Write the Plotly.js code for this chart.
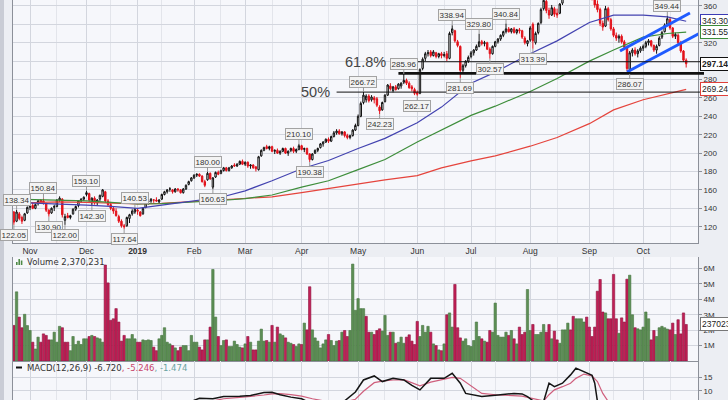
<!DOCTYPE html>
<html><head><meta charset="utf-8">
<script src="https://cdn.plot.ly/plotly-3.0.1.min.js"></script>
<style>html,body{margin:0;padding:0;background:#eceef3;}#chart{width:728px;height:400px;}</style>
</head><body><div id="chart"></div>
<script>
// ---------- DATA ----------
const holidays = ['2018-11-22','2018-12-05','2018-12-25','2019-01-01','2019-01-21','2019-02-18','2019-04-19','2019-05-27','2019-07-04','2019-09-02'];
const firstDay = '2018-10-24', lastDay = '2019-10-23';
const monthLabels = ['Nov','Dec','<b>2019</b>','Feb','Mar','Apr','May','Jun','Jul','Aug','Sep','Oct'];
const volumeTickLabels = ['1M','2M','3M','4M','5M','6M'];

const open = [
136,126,134,130,127,135,141,143,140,145, 149,148,145,138,135,141,142,149,150,127,
132,130,134,139,143,148,150,155,156,146, 151,146,150,153,158,148,144,140,137,131,
126,121,121,129,134,136,138,136,134,141, 147,148,149,149,147,150,155,158,161,160,
158,161,160,157,161,166,170,173,176,177, 175,169,171,178,163,174,179,178,181,184,
181,184,187,186,188,191,188,190,186,187, 185,182,197,203,207,205,207,202,203,200,
202,205,200,203,205,202,204,208,204,205, 199,193,200,203,206,210,212,215,213,218,
222,224,221,223,219,217,219,225,230,240, 255,258,262,258,260,259,250,247,256,263,
273,268,272,270,273,277,279,276,272,269, 266,265,292,303,308,310,306,309,305,308,
306,308,303,331,333,321,316,290,295,300, 305,309,312,316,321,319,320,313,308,316,
321,324,328,332,335,332,335,331,334,333, 325,319,323,340,320,331,342,357,365,355,
350,357,352,352,363,375,389,393,388,379, 388,398,403,405,397,382,370,362,356,341,
338,357,345,335,328,325,327,321,315,291, 309,312,308,311,314,316,320,322,317,312,
317,326,332,340,345,336,327,328,320,311, 301];
const high = [
137,138.34,136,132,135,142,144,146,145,149, 150,150.84,146,139,141,144,150,153,151,134,
135,133,140,143,149,151,153,159.10,157,152, 153,150,155,161,159,150,147,142,140,133,
128,123,131,134,139,140.53,139.5,137,141,147, 150,151,150,152,150,156,159,161,163,161,
162,162,161,162,166,170,174,177,178,178, 176,171,180.00,179,174,180,181,182,185,185,
185,187,189,189,192,193,191,191,188,188, 186,197,204,207,209,208,208,204,205,203,
206,206,203,206,207,205,210.10,209,206,206, 200,200,204,206,211,213,216,217,219,224,
226,226,224,224,221,220,226,232,242,256, 266.72,264,264,263,262,261,252,256,264,275,
276,273,274,276,277,285.96,281,278,274,271, 268,292,304,310,312,312,312,310,309,310,
310,311,332,338.94,334,323,317,297,301,306, 311,313,318,329.80,323,322,321,315,317,322,
325,329,333,340.84,337,336,337,335,336,334, 327,323,338,342,332,342,358,368,370,358,
361,359,357,363,376,391,397,399,392,388, 400,405,409,407,399,384,372,366,358,344,
360,359,347,337,331,329,329,323,317,311, 314,315,313,316,318,322,324,323,318,318,
327,333,341,349.44,347,337,331,330,322,312, 303];
const low = [
122.05,125,127,123,126,134,138,139,139,143, 146,144,136,130.90,134,137,141,147,130,122.00,
129,128,133,137,141,146,148,153,147,142.30, 144,143,148,152,146,142,138,134,131,124,
119,117.64,120,124,132,134,133,131,133,140, 144,146,146,147,145,149,154,156,158,156,
157,158,156,156,160,165,169,172,174,174, 168,163,170,171,160.63,173,176,177,180,180,
180,183,185,185,187,187,186,184,183,183, 180,181,196,202,204,203,201,199,199,198,
201,199,197,201,200,200,203,203,201,198, 190.38,192,199,201,205,207,211,211,212,217,
220,220,219,217,215,215,218,224,229,239, 253,255,255,256,254,250,242.23,246,255,262,
268,266,268,269,270,275,274,270,267,263, 262.17,264,290,300,305,304,305,303,303,303,
304,300,302,328,320,315,281.69,287,293,298, 303,306,311,315,317,316,312,302.57,307,315,
319,322,326,330,331,330,330,329,330,324, 318,316,321,313.39,318,329,340,355,352,346,
349,348,347,351,361,373,385,385,374,377, 386,393,398,395,378,366,358,353,338,333,
337,343,333,326,322,320,319,313,289,286.07, 305,306,304,309,311,314,317,315,310,308,
316,324,331,338,334,325,324,318,309,299, 293];
const close = [
125,136,129,126,134,141,143,140,144,148, 147,146,138,134,140,142,149,151,133,131,
130,132,139,142,148,150,152,157,149,151, 146,149,154,160,148,144,140,137,132,126,
121,120,130,133,137,139,137,132,140,146, 148,150,149,148,149,155,158,160,161,158,
161,160,157,161,165,169,173,176,177,175, 169,165,178,172,173,179,177,181,184,181,
184,186,186,188,191,188,190,186,187,184, 183,196,203,206,205,207,202,203,200,202,
205,200,202,205,202,204,208,204,205,199, 193,199,203,205,210,212,215,213,218,222,
224,221,223,219,217,219,225,230,240,254, 263,262,257,261,258,252,246,255,263,274,
270,272,269,275,276,279,276,271,270,265, 264,291,302,308,309,306,310,305,308,306,
307,303,330,335,322,317,290,295,300,304, 309,312,316,321,319,320,313,308,316,321,
324,328,332,335,332,335,331,334,333,326, 320,322,336,322,330,341,356,366,355,350,
358,351,350,362,374,388,393,388,377,386, 398,402,405,398,381,369,361,356,341,337,
357,345,335,328,325,327,321,315,292,309, 312,308,311,314,316,320,322,317,312,316,
325,331,339,346,336,327,329,320,311,301, 297.14];
// volume in millions of shares
const volumeM = [
2.31,4.49,2.85,2.16,3.03,2.3,1.98,1.22,0.78,1.55, 1.22,1.76,1.66,1.37,1.37,1.87,1.22,2.25,2.16,1.22,
1.22,0.67,1.59,1.07,1.29,1.07,1.44,1.44,1.59,1.66, 1.59,1.5,1.44,1.22,6.23,5.07,2.64,2.74,3.4,2.53,
1.29,1.66,1.44,1.44,1.72,1.44,1.22,1.22,1.37,1.33, 1.37,1.33,0.9,0.67,1.44,1.66,2.16,1.22,1.11,1.0,
0.85,0.67,0.9,1.0,1.0,0.67,1.66,1.22,1.22,0.9, 0.72,1.37,1.37,2.2,5.94,2.85,1.59,1.0,1.33,1.37,
0.94,0.94,1.29,1.07,0.9,0.85,1.11,1.59,1.22,0.72, 0.72,1.29,2.07,1.29,1.33,1.22,2.31,1.22,2.2,1.76,
1.66,1.5,1.22,1.15,1.07,0.94,1.11,1.07,2.46,2.02, 4.82,2.02,1.5,1.29,0.85,1.11,1.37,1.72,1.33,1.0,
1.29,1.33,1.87,1.98,1.59,1.98,6.29,3.29,4.05,3.4, 3.4,2.9,1.87,1.87,1.72,1.98,2.09,1.94,2.96,1.66,
1.87,1.87,1.15,1.22,1.55,1.15,1.55,1.7,1.29,1.07, 2.57,1.59,2.31,1.87,2.25,1.87,1.11,1.0,0.72,0.67,
1.11,3.0,3.12,2.2,4.97,2.16,1.5,1.29,1.44,1.0, 0.94,1.33,2.53,1.59,1.44,1.29,1.22,1.98,1.87,3.76,
1.66,1.55,1.55,1.87,1.66,1.98,1.44,1.11,2.2,1.72, 1.87,4.64,1.98,2.37,1.72,1.72,1.87,2.37,1.87,2.37,
1.44,1.94,1.37,1.15,2.02,2.02,2.46,2.02,2.9,2.74, 2.74,2.74,2.53,2.85,2.2,1.59,2.2,4.53,5.29,3.18,
3.12,2.74,2.74,5.62,2.74,1.8,2.8,2.53,5.31,5.57, 3.0,2.16,2.09,2.02,2.2,3.18,2.74,1.37,1.98,1.59,
2.16,2.25,2.16,2.07,2.02,2.46,1.72,2.68,1.76,3.12, 2.370231];

// moving averages (sampled dates)
const maDates = ['2018-10-24','2018-11-15','2018-12-03','2018-12-17','2019-01-02','2019-01-15','2019-02-01','2019-02-15','2019-03-01','2019-03-15','2019-04-01','2019-04-15','2019-05-01','2019-05-15','2019-06-03','2019-06-14','2019-07-01','2019-07-15','2019-08-01','2019-08-15','2019-09-03','2019-09-16','2019-10-01','2019-10-14','2019-10-23'];
const ma50  = [146.5,145,143.5,142,140,143.5,148,152,159,170,183,192,205,216,233,250,276,288,308,322,342,350,350,348,343.30];
const ma100 = [150,149,148,146.5,144.7,145,146.5,148.5,150.5,154.5,163,170,182,193,212,225,241,251,267,281,300,312,326,330,331.55];
const ma200 = [145.5,147,146.5,145.5,144.7,145.4,147.5,149.5,151,152.5,157,161.5,166.5,171,175.5,184,191.5,197,207.5,217,232,247,258,264,269.24];

// MACD(12,26,9)
const macdDates = ['2018-10-24','2018-11-08','2018-11-20','2018-12-04','2018-12-13','2018-12-24','2019-01-08','2019-01-18','2019-01-31','2019-02-05','2019-02-12','2019-02-19','2019-02-27','2019-03-05','2019-03-12','2019-03-15','2019-03-20','2019-03-26','2019-04-01','2019-04-05','2019-04-17','2019-04-24','2019-04-30','2019-05-03','2019-05-09','2019-05-14','2019-05-20','2019-05-24','2019-05-30','2019-06-04','2019-06-10','2019-06-17','2019-06-20','2019-06-25','2019-06-27','2019-07-08','2019-07-16','2019-07-24','2019-07-29','2019-07-31','2019-08-05','2019-08-08','2019-08-12','2019-08-14','2019-08-19','2019-08-22','2019-08-26','2019-08-29','2019-09-04','2019-09-05','2019-09-06','2019-09-10','2019-09-12','2019-09-25','2019-10-01','2019-10-14','2019-10-23'];
const macdLine = [-9,-2,-4,1,2.5,-5,-1.5,2.5,6,7.2,7,7.8,7.9,8.2,9.3,9.4,8.5,7.6,7,5,6,6.2,9.5,14,15.5,13.4,14.6,14,12,10.3,14.6,14.6,16.5,12.8,9,7.8,8.4,9,8.8,7.8,5.5,6,12.8,11.5,12.8,15.9,18.4,17.1,15.7,12.8,6,2,0,-6,-6.5,-2,-6.720];
const signalLine = [-6,-5,-4,-2,0,-1.5,-2.5,-0.5,3.5,5,6.2,7,7.5,7.8,8.4,8.8,8.9,8.5,8,7,5.5,5.8,6.8,9.8,13,13.6,14,14.1,12.8,11.8,13.2,14.2,15,14.6,13.2,9,8.4,8.2,8,7.5,6.8,6.2,8.5,10.3,11.5,12.8,14.6,16.2,15.5,14.6,13.4,9,6,-1,-3.5,-4.5,-5.246];
const macdHist = -1.474;

// labelled swing highs / lows
const pivotDates  = ['2018-10-25','2018-11-08','2018-10-24','2018-11-12','2018-11-20','2018-12-03','2018-12-06','2018-12-31','2018-12-24','2019-02-08','2019-02-12','2019-03-29','2019-04-04','2019-05-03','2019-05-13','2019-05-24','2019-06-03','2019-06-20','2019-06-25','2019-07-05','2019-07-11','2019-07-19','2019-08-02','2019-10-14','2019-09-24'];
const pivotValues = [138.34,150.84,122.05,130.90,122.00,159.10,142.30,140.53,117.64,180.00,160.63,210.10,190.38,266.72,242.23,285.96,262.17,338.94,281.69,329.80,302.57,340.84,313.39,349.44,286.07];
const pivotIsHigh = [1,1,0,0,0,1,0,1,0,1,0,1,0,1,0,1,0,1,0,1,0,1,0,1,0];

// annotation levels
const fibText   = ['61.8%','','50%'];
const fibValues = [299.3,286.6,266.3];
const fibStart  = ['2019-05-20','2019-05-22','2019-04-18'];
const channelUpperX = [225.4,251.4], channelUpperY = [311,352.3];
const channelLowerX = [228.0,255.2], channelLowerY = [288.2,330.5];

// ---------- BUILD ----------
function tradingDays(a,b){
  const out=[]; const d=new Date(a+'T00:00:00Z'), e=new Date(b+'T00:00:00Z');
  while(d<=e){const wd=d.getUTCDay(); const s=d.toISOString().slice(0,10);
    if(wd!==0&&wd!==6&&!holidays.includes(s)) out.push(s);
    d.setUTCDate(d.getUTCDate()+1);}
  return out;
}
const dates = tradingDays(firstDay,lastDay);
const idxOf = d => {let i=dates.indexOf(d); if(i<0) i=dates.findIndex(x=>x>=d); return i;};
const xs = dates.map((_,i)=>i);
const monthStarts=[], midMonths=[]; const seen={};
for(let i=0;i<dates.length;i++){
  if(i>0 && dates[i].slice(0,7)!==dates[i-1].slice(0,7)) monthStarts.push(i);
  const m=dates[i].slice(0,7), day=+dates[i].slice(8,10);
  if(day>=15 && !seen[m]){seen[m]=1; if(i>0) midMonths.push(i);}
}
const XR=[-0.33,254.4]; const X0=13/728, X1=698/728;
const paperX = i => X0+(i-XR[0])/(XR[1]-XR[0])*(X1-X0);
const py = p => 1-p/400;

const up = close.map((c,i)=> i===0 ? c>=open[0] : c>=close[i-1]);
const volColors = up.map(u=> u ? '#5d8f55' : '#c11f55');
const volLine = up.map(u=> u ? '#44733e' : '#8e1440');

const grid='#d3d6de', minorGrid='#e3e5eb', border='#8c9099';
const tickFont={family:'Liberation Sans, Arial, sans-serif',size:8,color:'#333'};

const traces=[
 {type:'scatter',mode:'lines',x:maDates.map(idxOf),y:ma200,line:{color:'#e5443c',width:1.2},xaxis:'x',yaxis:'y',hoverinfo:'skip'},
 {type:'scatter',mode:'lines',x:maDates.map(idxOf),y:ma100,line:{color:'#3e8e3b',width:1.2},xaxis:'x',yaxis:'y',hoverinfo:'skip'},
 {type:'scatter',mode:'lines',x:maDates.map(idxOf),y:ma50,line:{color:'#4343b0',width:1.2},xaxis:'x',yaxis:'y',hoverinfo:'skip'},
 {type:'candlestick',x:xs,open:open,high:high,low:low,close:close,xaxis:'x',yaxis:'y',
  increasing:{line:{color:'#111',width:1},fillcolor:'#ffffff'},
  decreasing:{line:{color:'#e3121b',width:1},fillcolor:'#e3121b'},whiskerwidth:0,hoverinfo:'skip'},
 {type:'bar',x:xs,y:volumeM.map(v=>v*1e6),marker:{color:volColors,line:{color:volLine,width:0.6}},xaxis:'x2',yaxis:'y2',hoverinfo:'skip'},
 {type:'scatter',mode:'lines',x:macdDates.map(idxOf),y:signalLine,line:{color:'#cf5f7d',width:1.2},xaxis:'x3',yaxis:'y3',hoverinfo:'skip'},
 {type:'scatter',mode:'lines',x:macdDates.map(idxOf),y:macdLine,line:{color:'#151515',width:1.5},xaxis:'x3',yaxis:'y3',hoverinfo:'skip'}
];

function xAxis(anchor,labels){
  return {domain:[X0,X1],range:XR,anchor:anchor,tickmode:'array',tickvals:monthStarts,ticktext:monthLabels,
    showticklabels:labels,tickfont:{family:'Liberation Sans, Arial, sans-serif',size:8.5,color:'#333'},ticks:'',
    showgrid:true,gridcolor:grid,gridwidth:1,zeroline:false,showline:true,linecolor:border,mirror:false,
    minor:{tickmode:'array',tickvals:midMonths,showgrid:true,gridcolor:minorGrid},
    rangeslider:{visible:false},fixedrange:true};
}
const annotations=[];
pivotDates.forEach((d,k)=>{
  annotations.push({x:idxOf(d),y:pivotValues[k],xref:'x',yref:'y',text:pivotValues[k].toFixed(2),
    showarrow:true,arrowhead:0,arrowwidth:1,arrowcolor:'#9a9a9a',ax:0,ay:pivotIsHigh[k]?-10:10,standoff:0,
    bgcolor:'#f3f3f3',bordercolor:'#a3a3a3',borderwidth:1,borderpad:0.5,
    font:{family:'Liberation Sans, Arial, sans-serif',size:8,color:'#333'}});
});
fibText.forEach((t,k)=>{ if(!t) return;
  annotations.push({x:paperX(idxOf(fibStart[k]))-5/728,xref:'paper',y:fibValues[k],yref:'y',xanchor:'right',yanchor:'middle',
    text:t,showarrow:false,font:{family:'Liberation Sans, Arial, sans-serif',size:14.5,color:'#444'}});
});
const lastClose=close[close.length-1];
const callouts=[[ma50[ma50.length-1],'#3b3bb5',false],[ma100[ma100.length-1],'#3c8c3a',false],[lastClose,'#111',true],[ma200[ma200.length-1],'#e0403a',false]];
callouts.forEach(c=>{
  annotations.push({x:700/728,xref:'paper',xanchor:'left',y:c[0],yref:'y',showarrow:false,
    text:c[2]?'<b>'+c[0].toFixed(2)+'</b>':c[0].toFixed(2),bgcolor:'#ffffff',bordercolor:c[1],borderwidth:1,borderpad:1,
    font:{family:'Liberation Sans, Arial, sans-serif',size:8.5,color:'#222'}});
});
const lastVol=Math.round(volumeM[volumeM.length-1]*1e6);
annotations.push({x:700/728,xref:'paper',xanchor:'left',y:lastVol,yref:'y2',showarrow:false,text:String(lastVol),
  bgcolor:'#ffffff',bordercolor:'#777',borderwidth:1,borderpad:1,font:{family:'Liberation Sans, Arial, sans-serif',size:8.5,color:'#222'}});
annotations.push({x:25/728,xref:'paper',xanchor:'left',y:py(262),yref:'paper',yanchor:'middle',showarrow:false,
  text:'Volume '+lastVol.toLocaleString('en-US'),font:{family:'DejaVu Sans, sans-serif',size:8.5,color:'#333'}});
annotations.push({x:25/728,xref:'paper',xanchor:'left',y:py(367.5),yref:'paper',yanchor:'middle',showarrow:false,
  text:'MACD(12,26,9) '+macdLine[macdLine.length-1].toFixed(3)+'<span style="color:#c8456a">, '+signalLine[signalLine.length-1].toFixed(3)+'</span><span style="color:#6aa3a0">, '+macdHist.toFixed(3)+'</span>',
  font:{family:'DejaVu Sans, sans-serif',size:8.5,color:'#333'}});

const shapes=[
 {type:'rect',xref:'paper',yref:'paper',x0:0,x1:4/728,y0:0,y1:1,fillcolor:'#c9ccd5',line:{width:0},layer:'below'},
 {type:'rect',xref:'paper',yref:'paper',x0:16/728,x1:17.6/728,y0:py(265),y1:py(262),fillcolor:'#4f8a47',line:{width:0}},
 {type:'rect',xref:'paper',yref:'paper',x0:18.4/728,x1:20/728,y0:py(265),y1:py(259),fillcolor:'#4f8a47',line:{width:0}},
 {type:'rect',xref:'paper',yref:'paper',x0:20.8/728,x1:22.4/728,y0:py(265),y1:py(260.5),fillcolor:'#4f8a47',line:{width:0}},
 {type:'line',xref:'paper',yref:'paper',x0:16/728,x1:22/728,y0:py(367.5),y1:py(367.5),line:{color:'#111',width:2}},
 {type:'line',xref:'x',yref:'y',x0:channelUpperX[0],x1:channelUpperX[1],y0:channelUpperY[0],y1:channelUpperY[1],line:{color:'#1f5bff',width:3}},
 {type:'line',xref:'x',yref:'y',x0:channelLowerX[0],x1:channelLowerX[1],y0:channelLowerY[0],y1:channelLowerY[1],line:{color:'#1f5bff',width:3}}
];
fibValues.forEach((v,k)=>{
  shapes.push({type:'line',xref:'paper',yref:'y',x0:paperX(idxOf(fibStart[k])),x1:704/728,y0:v,y1:v,
    line:{color:'#111',width:k===1?2.6:1}});
});

const layout={
 width:728,height:400,margin:{l:0,r:0,t:0,b:0},paper_bgcolor:'#eceef3',plot_bgcolor:'#f6f7fb',showlegend:false,
 font:tickFont,boxgap:0.25,bargap:0.12,
 xaxis:xAxis('y',true),xaxis2:xAxis('y2',false),xaxis3:Object.assign(xAxis('y3',false),{showline:false}),
 yaxis:{domain:[py(243),1],range:[102.3,366.4],side:'right',anchor:'x',tick0:0,dtick:20,gridcolor:grid,zeroline:false,
   ticks:'outside',ticklen:3,tickcolor:border,showline:true,mirror:true,linecolor:border,tickfont:tickFont,fixedrange:true},
 yaxis2:{domain:[py(361),py(257)],range:[0,6.75e6],side:'right',anchor:'x2',tickmode:'array',
   tickvals:volumeTickLabels.map((_,i)=>(i+1)*1e6),ticktext:volumeTickLabels,gridcolor:grid,zeroline:false,
   ticks:'outside',ticklen:3,tickcolor:border,showline:true,mirror:true,linecolor:border,tickfont:tickFont,fixedrange:true},
 yaxis3:{domain:[0,py(361)],range:[6.53,21.08],side:'right',anchor:'x3',tickvals:[10,15],gridcolor:grid,zeroline:false,
   ticks:'outside',ticklen:3,tickcolor:border,showline:true,mirror:true,linecolor:border,tickfont:tickFont,fixedrange:true},
 annotations:annotations,shapes:shapes
};
Plotly.newPlot('chart',traces,layout,{staticPlot:true,displayModeBar:false});
</script></body></html>
